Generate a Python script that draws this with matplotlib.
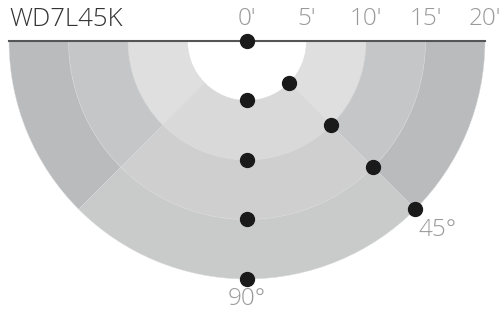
import matplotlib
matplotlib.use("Agg")
import matplotlib.pyplot as plt
from matplotlib.patches import Wedge
import numpy as np

TITLE = "WD7L45K"
RING_EDGES = [5, 10, 15, 20]               # feet
TICK_VALUES = [0, 5, 10, 15, 20]
TICK_LABELS = ["0'", "5'", "10'", "15'", "20'"]
DOTS_90 = [0, 5, 10, 15, 20]               # distances along 90° axis
DOTS_45 = [5, 10, 15, 20]                  # distances along 45° axis
SIDE_COLORS = ["#dfdfdf", "#c5c6c8", "#babbbd"]
CENTER_COLORS = ["#d9d9d9", "#cfcfcf", "#c9caca"]

PX_PER_FT = 11.9
W, H = 499, 309
CX, CY = 247, 41

plt.rcParams["font.family"] = ["Open Sans", "DejaVu Sans"]

fig = plt.figure(figsize=(W / 100, H / 100), dpi=100)
ax = fig.add_axes([0, 0, 1, 1])
ax.set_xlim(-CX / PX_PER_FT, (W - CX) / PX_PER_FT)
ax.set_ylim(-(H - CY) / PX_PER_FT, CY / PX_PER_FT)
ax.axis("off")

# rings, split into side sectors and a central sector
for r_in, r_out, sc, cc in zip(RING_EDGES[:-1], RING_EDGES[1:], SIDE_COLORS, CENTER_COLORS):
    for t1, t2, col in [(180, 225, sc), (315, 360, sc), (225, 315, cc)]:
        ax.add_patch(Wedge((0, 0), r_out, t1, t2, width=r_out - r_in,
                           facecolor=col, edgecolor="#dadada", lw=0.3))

rmax = RING_EDGES[-1]
ax.plot([-rmax, rmax], [0, 0], color="#555555", lw=1.5, zorder=3)

# dots
d90 = np.array(DOTS_90)
ax.plot(np.zeros_like(d90), -d90, "o", color="#1a1a1a", ms=10, zorder=4)
d45 = np.array(DOTS_45)
a = np.deg2rad(-45)
ax.plot(d45 * np.cos(a), d45 * np.sin(a), "o", color="#1a1a1a", ms=10, zorder=4)

# tick labels
for v, lab in zip(TICK_VALUES, TICK_LABELS):
    ax.text(v, 1.85, lab, ha="center", va="center", fontsize=17.5,
            color="#9a9a9a", fontweight="light")

ax.text(-rmax, 1.8, TITLE, ha="left", va="center", fontsize=18.5,
        color="#333333", fontweight="light")

ax.text(rmax * np.cos(a) + 1.85, rmax * np.sin(a) - 1.7, "45°", ha="center",
        va="center", fontsize=17.5, color="#9a9a9a", fontweight="light")
ax.text(0, -rmax - 1.7, "90°", ha="center", va="center", fontsize=17.5,
        color="#9a9a9a", fontweight="light")

fig.savefig("out.png", dpi=100)
